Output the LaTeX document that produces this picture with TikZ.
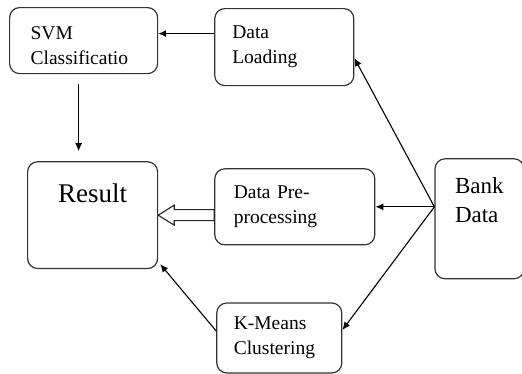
\documentclass[tikz,border=0pt]{standalone}
\usepackage{fontspec}
\setmainfont{Liberation Serif}
\usetikzlibrary{positioning, arrows.meta, calc}
\tikzset{>={Latex[length=8pt,width=7pt]}}
\tikzset{
    box/.style={draw=black!80, line width=1.2pt, rounded corners=10pt, align=left, anchor=north west, inner xsep=18pt, inner ysep=4pt, font=\fontsize{19.5}{25}\selectfont},
    bigbox/.style={draw=black!80, line width=1.2pt, rounded corners=10pt, anchor=north west},
    conn/.style={->, line width=1.1pt},
    hollow/.style={draw=black!85, line width=1.1pt, fill=white}
}
\begin{document}
\begin{tikzpicture}[x=1pt, y=1pt]
    \useasboundingbox (0,0) rectangle (522,-373);

    \node[box, minimum width=148pt, minimum height=66pt, text width=106pt, inner xsep=21pt, text height=23pt] (svm) at (9,-7) {SVM\\Classificatio};
    \node[box, minimum width=139pt, minimum height=77pt, text width=104pt, inner xsep=17pt, right=56pt of svm.north east, anchor=north west, yshift=-1pt] (load) {Data\\Loading};
    \node[bigbox, minimum width=130pt, inner ysep=21.5pt, text depth=45pt, font=\fontsize{27}{32}\selectfont, below right=87pt and 18pt of svm.south west, anchor=north west] (result) {Result};
    \node[box, minimum width=160pt, minimum height=76pt, text width=122pt, inner xsep=19pt, right=56pt of result.north east, anchor=north west, yshift=-7pt] (prep) {Data Pre-\\processing};
    \node[box, minimum width=89pt, text width=49pt, inner xsep=20pt, inner ysep=19pt, text depth=66pt, font=\fontsize{23}{29}\selectfont, right=59pt of prep.north east, anchor=north west, yshift=10pt] (bank) {Bank\\Data};
    \node[box, minimum width=125pt, minimum height=70pt, text width=91pt, inner xsep=17pt, below right=57pt and 2pt of prep.south west, anchor=north west] (kmeans) {K-Means\\Clustering};

    \coordinate (src) at ([yshift=12pt]bank.west);

    \draw[conn] ([yshift=7pt]svm.east -| load.west) -- ([yshift=7pt]svm.east);
    \draw[conn] ([xshift=-5pt,yshift=-10pt]svm.south) -- ([xshift=-5pt,yshift=10pt]svm.south |- result.north);
    \draw[conn] (src) -- ([yshift=-11pt]load.east);
    \draw[conn] (src) -- (src -| prep.east);
    \draw[conn] (src) -- ([yshift=8pt]kmeans.east);
    \draw[conn] ([yshift=7pt]kmeans.west) -- ([shift={(2pt,5pt)}]result.south east);

    % hollow arrow into result
    \draw[hollow] (result.east) -- ++(16,10) -- ++(0,-4.5) -- ([yshift=5.5pt]result.east -| prep.west) -- ([yshift=-5.5pt]result.east -| prep.west) -- ++(-40,0) -- ++(0,-4.5) -- cycle;
\end{tikzpicture}
\end{document}
